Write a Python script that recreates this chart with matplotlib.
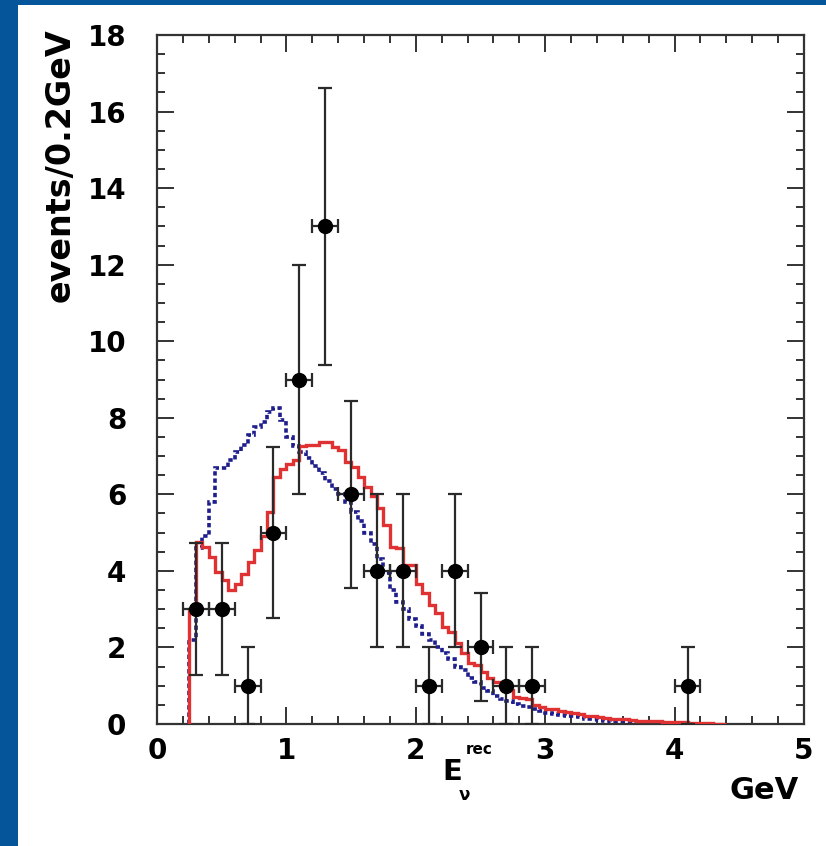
import numpy as np
import matplotlib
matplotlib.use("Agg")
import matplotlib.pyplot as plt
from matplotlib.patches import Rectangle
from matplotlib.ticker import MultipleLocator

plt.rcParams['font.family'] = ['DejaVu Sans']
plt.rcParams['font.weight'] = 'bold'

# Observed events per 0.2 GeV bin
data_x = [0.3, 0.5, 0.7, 0.9, 1.1, 1.3, 1.5, 1.7, 1.9, 2.1, 2.3, 2.5, 2.7, 2.9, 4.1]
data_y = [3, 3, 1, 5, 9, 13, 6, 4, 4, 1, 4, 2, 1, 1, 1]
data_yerr = [1.73, 1.73, 1.0, 2.24, 3.0, 3.61, 2.45, 2.0, 2.0, 1.0, 2.0, 1.41, 1.0, 1.0, 1.0]
data_xerr = [0.1] * 15

# Expectation histograms, 0.05 GeV bins starting at 0.25 GeV
bin_start = 0.25
bin_width = 0.05
red_vals = [3.0, 4.76, 4.63, 4.37, 3.98, 3.76, 3.50, 3.67, 3.93, 4.24,
            4.54, 4.90, 5.55, 6.45, 6.65, 6.80, 6.90, 7.25, 7.28, 7.30,
            7.37, 7.37, 7.24, 7.15, 6.85, 6.72, 6.46, 6.20, 5.95, 5.63,
            5.20, 4.63, 4.60, 4.15, 4.15, 3.67, 3.41, 3.10, 2.89, 2.54,
            2.40, 2.11, 1.85, 1.60, 1.55, 1.37, 1.20, 1.10, 1.02, 0.90,
            0.70, 0.68, 0.66, 0.50, 0.45, 0.38, 0.38, 0.35, 0.32, 0.30,
            0.25, 0.22, 0.20, 0.18, 0.15, 0.14, 0.12, 0.12, 0.10, 0.09,
            0.08, 0.07, 0.07, 0.06, 0.05, 0.05, 0.04, 0.03, 0.03, 0.02,
            0.02, 0.01, 0.01]
blue_vals = [2.2, 4.6, 4.9, 5.8, 6.7, 6.7, 6.9, 7.1, 7.3, 7.55,
             7.75, 7.9, 8.15, 8.25, 7.95, 7.5, 7.25, 7.1, 6.95, 6.75,
             6.55, 6.35, 6.15, 6.0, 5.8, 5.55, 5.3, 5.0, 4.7, 4.3,
             3.95, 3.5, 3.2, 3.0, 2.75, 2.55, 2.35, 2.2, 2.0, 1.85,
             1.7, 1.5, 1.4, 1.2, 1.1, 0.95, 0.85, 0.72, 0.65, 0.6,
             0.52, 0.48, 0.44, 0.38, 0.33, 0.28, 0.26, 0.24, 0.22, 0.2,
             0.17, 0.14, 0.12, 0.1, 0.08, 0.06, 0.05, 0.04, 0.04, 0.03,
             0.03, 0.02, 0.02, 0.01, 0.01]

x_ticks = [0, 1, 2, 3, 4, 5]
y_ticks = [0, 2, 4, 6, 8, 10, 12, 14, 16, 18]

W, H = 826, 846
fig = plt.figure(figsize=(W / 100, H / 100), dpi=100)
fig.patch.set_facecolor('#04559a')
fig.patches.append(Rectangle((18 / W, 0), 1 - 18 / W, 1 - 5 / H,
                             transform=fig.transFigure, facecolor='white',
                             edgecolor='none', zorder=-10))

L, R, T, B = 157, 804, 35, 724
ax = fig.add_axes([L / W, 1 - B / H, (R - L) / W, (B - T) / H])
ax.set_facecolor('none')
ax.set_xlim(0, 5)
ax.set_ylim(0, 18)

red_edges = bin_start + bin_width * np.arange(len(red_vals) + 1)
blue_edges = bin_start + bin_width * np.arange(len(blue_vals) + 1)
ax.stairs(blue_vals, blue_edges, baseline=0, color='#1e1e8c', linewidth=2.6,
          linestyle=(0, (1.2, 0.8)), zorder=2)
ax.stairs(red_vals, red_edges, baseline=0, color='#e03232', linewidth=2.4,
          zorder=3)

ax.errorbar(data_x, data_y, yerr=data_yerr, xerr=data_xerr, fmt='o',
            color='black', markersize=10, ecolor='#2a2a2a', elinewidth=1.6,
            capsize=5, capthick=1.6, zorder=4)

for sp in ax.spines.values():
    sp.set_linewidth(1.6)
    sp.set_color('#333333')

ax.set_xticks(x_ticks)
ax.set_yticks(y_ticks)
ax.xaxis.set_minor_locator(MultipleLocator(0.2))
ax.yaxis.set_minor_locator(MultipleLocator(0.5))
ax.tick_params(which='both', direction='in', top=True, right=True,
               color='#333333', width=1.4)
ax.tick_params(which='major', length=12)
ax.tick_params(which='minor', length=6)
ax.tick_params(axis='x', which='major', pad=9, labelsize=20)
ax.tick_params(axis='y', which='major', pad=22, labelsize=20)
for lab in ax.get_xticklabels() + ax.get_yticklabels():
    lab.set_fontweight('bold')

fig.text(60 / W, 1 - 28 / H, 'events/0.2GeV', rotation=90, ha='center',
         va='top', fontsize=24, fontweight='bold')
fig.text(452 / W, 1 - 772 / H, 'E', ha='center', va='center',
         fontsize=21, fontweight='bold')
fig.text(479 / W, 1 - 750 / H, 'rec', ha='center', va='center',
         fontsize=11, fontweight='bold')
fig.text(464 / W, 1 - 795 / H, 'ν', ha='center', va='center',
         fontsize=12, fontweight='bold')
fig.text(764 / W, 1 - 790 / H, 'GeV', ha='center', va='center',
         fontsize=22, fontweight='bold')

fig.savefig('out.png', dpi=100, facecolor=fig.get_facecolor())
